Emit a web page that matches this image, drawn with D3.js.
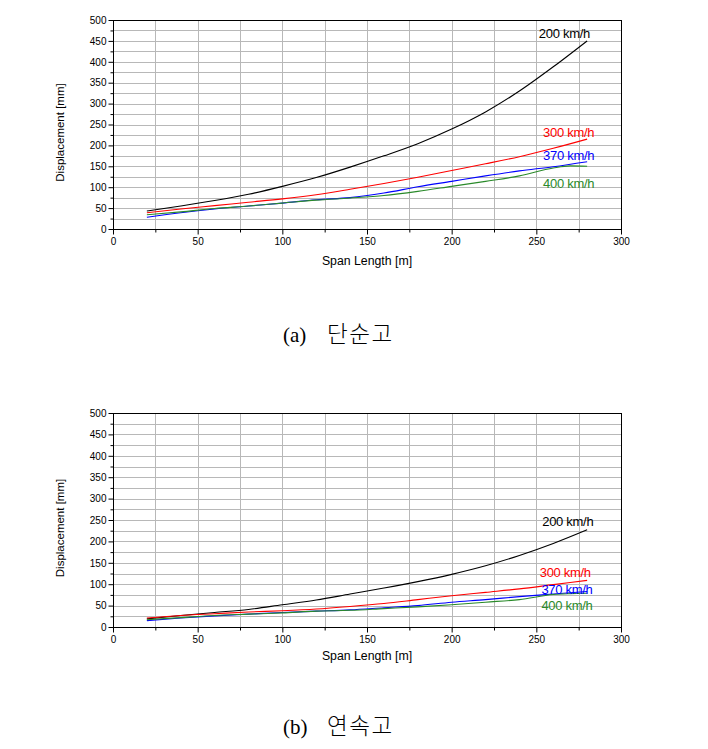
<!DOCTYPE html>
<html>
<head>
<meta charset="utf-8">
<script src="https://cdn.jsdelivr.net/npm/d3@7"></script>
<style>
  html, body { margin: 0; padding: 0; background: #fff; }
  svg { display: block; }
</style>
</head>
<body>
<svg id="chart" width="708" height="749"></svg>
<script>
// ---------------- DATA ----------------
const xTicks = [0, 50, 100, 150, 200, 250, 300];
const yTicks = [0, 50, 100, 150, 200, 250, 300, 350, 400, 450, 500];
const seriesNames = ["200 km/h", "300 km/h", "370 km/h", "400 km/h"];

const span = [20, 40, 60, 80, 100, 120, 140, 160, 180, 200, 220, 240, 260, 280];
const spanGreen = [20, 40, 60, 80, 100, 120, 140, 160, 180, 200, 220, 240, 260, 270, 280];

// (a) 단순고
const a200 = [43, 55, 68, 83, 102, 123, 148, 175, 204, 239, 280, 330, 388, 450];
const a300 = [39, 48, 56, 64, 72, 82, 95, 109, 124, 140, 156, 173, 193, 215];
const a370 = [28, 39, 48, 55, 62, 70, 75, 86, 101, 114, 127, 139, 149, 161];
const a400 = [34, 41, 49, 55, 62, 69, 74, 80, 90, 102, 114, 127, 146, 151, 150];

// (b) 연속고
const b200 = [19, 27, 34, 41, 52, 63, 77, 91, 106, 123, 143, 167, 195, 227];
const b300 = [21, 27, 31, 35, 38, 42, 48, 55, 64, 73, 81, 89, 99, 109];
const b370 = [15, 21, 26, 30, 34, 37, 40, 45, 50, 58, 64, 71, 77, 83];
const b400 = [17, 22, 27, 30, 33, 37, 39, 43, 47, 52, 58, 64, 76, 78, 79];

const captionA = ["(a)", "단순고"];
const captionB = ["(b)", "연속고"];

// ---------------- DRAWING ----------------
const colors = ["#000000", "#ff0000", "#0000ff", "#2a8a2a"];
const svg = d3.select("#chart");

function drawPanel(cfg) {
  const x = d3.scaleLinear().domain([0, 300]).range([cfg.left, cfg.right]);
  const y = d3.scaleLinear().domain([0, 500]).range([cfg.bottom, cfg.top]);
  const g = svg.append("g");
  const w = cfg.right - cfg.left, h = cfg.bottom - cfg.top;

  // grid
  const grid = g.append("g").attr("stroke", "#b8b8b8").attr("stroke-width", 1);
  grid.selectAll("line.v").data(d3.range(25, 300, 25)).join("line")
    .attr("x1", d => Math.round(x(d)) + 0.5).attr("x2", d => Math.round(x(d)) + 0.5)
    .attr("y1", cfg.top).attr("y2", cfg.bottom);
  grid.selectAll("line.h").data(d3.range(25, 500, 25)).join("line")
    .attr("y1", d => Math.round(y(d)) + 0.5).attr("y2", d => Math.round(y(d)) + 0.5)
    .attr("x1", cfg.left).attr("x2", cfg.right);

  // minor ticks
  const xMinor = d3.axisBottom(x).tickValues(d3.range(25, 300, 50)).tickSize(3).tickFormat("");
  const yMinor = d3.axisLeft(y).tickValues(d3.range(25, 500, 50)).tickSize(3).tickFormat("");
  // major axes
  const xAxis = d3.axisBottom(x).tickValues(xTicks).tickSize(5).tickPadding(3).tickFormat(d3.format("d"));
  const yAxis = d3.axisLeft(y).tickValues(yTicks).tickSize(5).tickPadding(2).tickFormat(d3.format("d"));

  [xMinor, xAxis].forEach(ax => {
    g.append("g").attr("transform", `translate(0,${Math.round(cfg.bottom) + 0.5})`).call(ax);
  });
  [yMinor, yAxis].forEach(ax => {
    g.append("g").attr("transform", `translate(${Math.round(cfg.left) + 0.5},0)`).call(ax);
  });
  g.selectAll(".domain").remove();
  g.selectAll(".tick line").attr("stroke", "#000");
  g.selectAll(".tick text").attr("font-family", "'Liberation Sans', Arial, sans-serif")
    .attr("font-size", 10).attr("fill", "#000");

  // frame
  g.append("rect")
    .attr("x", Math.round(cfg.left) + 0.5).attr("y", Math.round(cfg.top) + 0.5)
    .attr("width", Math.round(w)).attr("height", Math.round(h))
    .attr("fill", "none").attr("stroke", "#000").attr("stroke-width", 1);

  // lines
  const line = d3.line().x(d => x(d[0])).y(d => y(d[1])).curve(d3.curveMonotoneX);
  cfg.series.forEach((s, i) => {
    const pts = s.xs.map((xv, k) => [xv, s.ys[k]]);
    g.append("path").attr("d", line(pts)).attr("fill", "none")
      .attr("stroke", colors[i]).attr("stroke-width", 1.1);
  });

  // series labels
  cfg.labels.forEach((l, i) => {
    g.append("text").attr("x", x(l[0])).attr("y", y(l[1]))
      .attr("font-family", "'Liberation Sans', Arial, sans-serif")
      .attr("font-size", 13).attr("letter-spacing", -0.3)
      .attr("fill", colors[i]).text(seriesNames[i]);
  });

  // axis titles
  g.append("text")
    .attr("transform", `translate(64,${(cfg.top + cfg.bottom) / 2 + 8}) rotate(-90)`)
    .attr("text-anchor", "middle")
    .attr("font-family", "'Liberation Sans', Arial, sans-serif")
    .attr("font-size", 11.5).attr("fill", "#000").text("Displacement [mm]");
  g.append("text")
    .attr("x", (cfg.left + cfg.right) / 2).attr("y", cfg.bottom + cfg.titleDy)
    .attr("text-anchor", "middle")
    .attr("font-family", "'Liberation Sans', Arial, sans-serif")
    .attr("font-size", 12.3).attr("fill", "#000").text("Span Length [m]");

  // caption
  const cap = svg.append("text").attr("y", cfg.capY).attr("fill", "#000");
  cap.append("tspan").attr("x", 283).attr("font-family", "'Liberation Serif', 'DejaVu Serif', serif")
    .attr("font-size", 21).text(cfg.caption[0]);
  cap.append("tspan").attr("x", 327).attr("font-family", "'Noto Sans CJK KR', sans-serif")
    .attr("font-size", 22.5).attr("font-weight", 300).attr("letter-spacing", 1.5).text(cfg.caption[1]);
}

drawPanel({
  left: 113, right: 621, top: 20, bottom: 229, titleDy: 36, capY: 342,
  series: [{xs: span, ys: a200}, {xs: span, ys: a300}, {xs: span, ys: a370}, {xs: spanGreen, ys: a400}],
  labels: [[251.5, 457], [254, 220], [254, 165.5], [254, 98.7]],
  caption: captionA
});
drawPanel({
  left: 113, right: 621, top: 413, bottom: 627, titleDy: 33, capY: 734,
  series: [{xs: span, ys: b200}, {xs: span, ys: b300}, {xs: span, ys: b370}, {xs: spanGreen, ys: b400}],
  labels: [[253.5, 236], [252, 116.5], [253, 76.6], [253, 39]],
  caption: captionB
});
</script>
</body>
</html>
